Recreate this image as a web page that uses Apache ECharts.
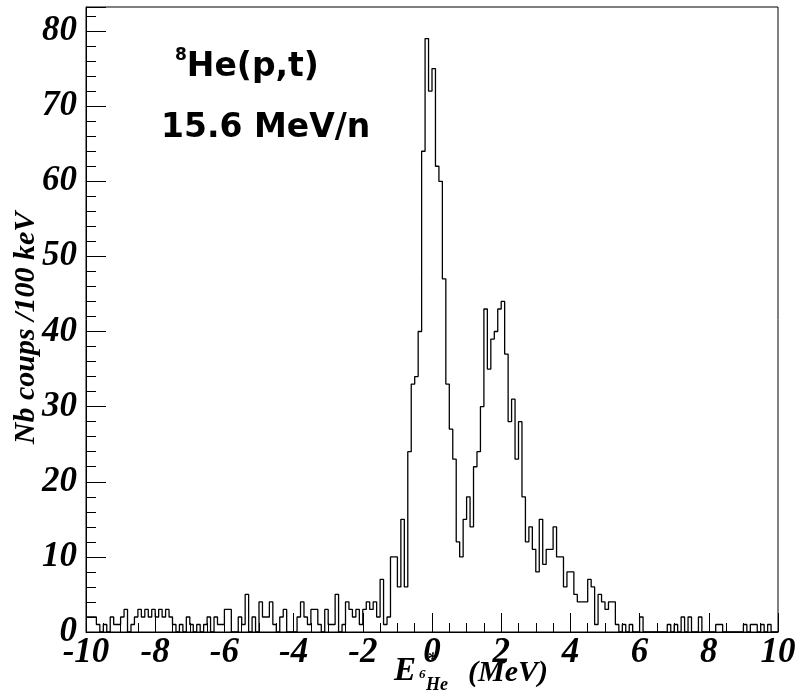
<!DOCTYPE html>
<html>
<head>
<meta charset="utf-8">
<script src="https://cdn.jsdelivr.net/npm/echarts@6/dist/echarts.min.js"></script>
<style>
  html, body { margin: 0; padding: 0; background: #fff; }
  #chart { width: 803px; height: 696px; }
</style>
</head>
<body>
<div id="chart"></div>
<script>
// 100 keV bins from -10 to +10 MeV
const binStart = -10;
const binWidth = 0.1;
const counts = [
  // -10.0 .. -6.8
  2, 2, 2, 1, 0, 1, 0, 2, 1, 1, 2, 3, 0, 1, 2, 3, 2, 3, 2, 3,
  2, 3, 2, 3, 2, 1, 0, 1, 0, 2, 1, 0, 1,
  // -6.7 .. -3.5
  0, 1, 2, 0, 2, 1, 1, 3, 3, 0, 0, 2, 1, 5, 0, 2, 0, 4, 2, 2,
  4, 1, 0, 2, 3, 0, 0, 0, 2, 4, 2, 1, 3,
  // -3.4 .. -1.3
  3, 1, 0, 3, 1, 1, 5, 0, 1, 4, 3, 2, 3, 1, 3, 4, 3, 4, 2, 7,
  1, 2,
  // -1.2 .. 6.0
  10, 10, 6, 15, 6, 24, 33, 34, 40, 64, 79, 72, 75, 62, 60, 47, 33, 27, 23, 12,
  10, 15, 18, 14, 22, 24, 30, 43, 35, 39, 40, 43, 44, 37, 28, 31, 23, 28, 18, 12,
  14, 11, 8, 15, 9, 11, 11, 14, 10, 10, 6, 8, 8, 5, 4, 4, 4, 7, 6, 1,
  5, 4, 3, 4, 4, 1, 0, 1, 0, 1, 0, 0, 2,
  // 6.1 .. 9.9
  0, 0, 0, 0, 0, 0, 0, 1, 0, 1, 0, 2, 0, 2, 0, 0, 2, 0, 0, 0,
  0, 1, 1, 0, 0, 0, 0, 0, 0, 1, 0, 1, 1, 0, 1, 0, 1, 0, 0
];

const xMin = -10, xMax = 10, xStep = 2;
const yMin = 0, yMax = 83.2, yStep = 10, yMinorStep = 2;
const yTitle = 'Nb coups /100 keV';

const tickFont = {
  color: '#000',
  fontFamily: 'Liberation Serif',
  fontStyle: 'italic',
  fontWeight: 'bold',
  fontSize: 35
};

const stairs = counts.map((c, i) => [+(binStart + i * binWidth).toFixed(2), c]);
stairs.push([+(binStart + counts.length * binWidth).toFixed(2), counts[counts.length - 1]]);

const chart = echarts.init(document.getElementById('chart'));

chart.setOption({
  animation: false,
  backgroundColor: '#fff',
  grid: {
    left: 86, right: 25, top: 7, bottom: 64,
    containLabel: false,
    outerBoundsMode: 'none',
    show: true, borderColor: '#000', borderWidth: 1
  },
  xAxis: {
    type: 'value',
    min: xMin, max: xMax, interval: xStep,
    axisLine: { show: true, onZero: false, lineStyle: { color: '#000', width: 1 } },
    axisTick: { show: true, inside: true, length: 19, lineStyle: { color: '#000' } },
    minorTick: { show: true, splitNumber: 4, length: 9, lineStyle: { color: '#000' } },
    splitLine: { show: false },
    axisLabel: { ...tickFont, margin: 3 }
  },
  yAxis: [
    {
      type: 'value',
      min: yMin, max: yMax, interval: yStep,
      axisLine: { show: true, onZero: false, lineStyle: { color: '#000', width: 1 } },
      axisTick: { show: true, inside: true, length: 20, lineStyle: { color: '#000' } },
      splitLine: { show: false },
      axisLabel: {
        ...tickFont, margin: 9,
        formatter: (v) => (v % yStep === 0 ? String(v) : '')
      }
    },
    {
      type: 'value',
      min: yMin, max: yMax, interval: yMinorStep,
      position: 'left',
      axisLine: { show: false, onZero: false },
      axisTick: { show: true, inside: true, length: 10, lineStyle: { color: '#000' } },
      axisLabel: { show: false },
      splitLine: { show: false }
    }
  ],
  graphic: [
    // y axis title, rotated
    {
      type: 'text', x: 26, y: 328, rotation: Math.PI / 2,
      style: {
        text: yTitle, fill: '#000',
        font: 'italic bold 30px "Liberation Serif"',
        align: 'center', verticalAlign: 'middle'
      }
    },
    {
      type: 'text', left: 175, top: 47,
      style: {
        text: '{s|8}{n|He(p,t)}',
        rich: {
          s: { fontFamily: 'DejaVu Sans', fontWeight: 'bold', fontSize: 17, fill: '#000', verticalAlign: 'top', lineHeight: 40 },
          n: { fontFamily: 'DejaVu Sans', fontWeight: 'bold', fontSize: 33, fill: '#000', lineHeight: 40 }
        }
      }
    },
    {
      type: 'text', left: 161, top: 112,
      style: { text: '15.6 MeV/n', fill: '#000', font: 'bold 33px "DejaVu Sans"' }
    },
    // x axis title: E*_{6He} (MeV)
    { type: 'text', left: 394, top: 655, style: { text: 'E', fill: '#000', font: 'italic bold 33px "Liberation Serif"' } },
    { type: 'text', left: 427, top: 651, style: { text: '*', fill: '#000', font: 'italic bold 19px "Liberation Serif"' } },
    { type: 'text', left: 419, top: 668, style: { text: '6', fill: '#000', font: 'italic bold 13px "Liberation Serif"' } },
    { type: 'text', left: 426, top: 676, style: { text: 'He', fill: '#000', font: 'italic bold 18px "Liberation Serif"' } },
    { type: 'text', left: 468, top: 658, style: { text: '(MeV)', fill: '#000', font: 'italic bold 30px "Liberation Serif"' } }
  ],
  series: [
    {
      type: 'line',
      step: 'end',
      data: stairs,
      symbol: 'none',
      lineStyle: { color: '#000', width: 1.3 },
      xAxisIndex: 0,
      yAxisIndex: 0
    }
  ]
});
</script>
</body>
</html>
